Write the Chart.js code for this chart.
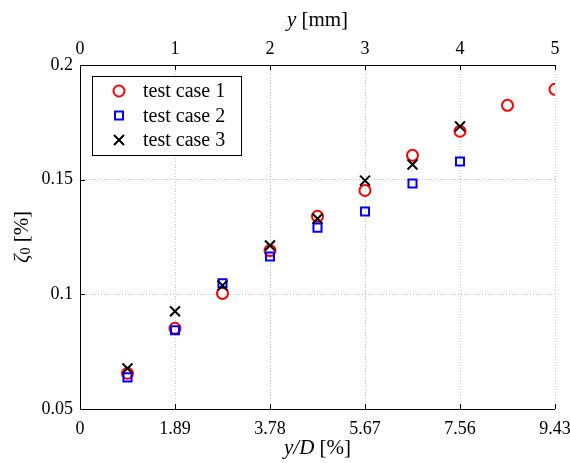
<!DOCTYPE html>
<html>
<head>
<meta charset="utf-8">
<script src="https://cdn.jsdelivr.net/npm/chart.js@4/dist/chart.umd.min.js"></script>
<style>
  html, body { margin: 0; padding: 0; background: #fff; }
  #wrap { width: 570px; height: 463px; }
</style>
</head>
<body>
<div id="wrap"><canvas id="myChart"></canvas></div>
<script>
// positions along the top axis, y [mm]
const posMm = [0.5, 1, 1.5, 2, 2.5, 3, 3.5, 4, 4.5, 5];
// zeta_0 [%]
const case1 = [0.0656, 0.0852, 0.1004, 0.1191, 0.1340, 0.1453, 0.1606, 0.1711, 0.1824, 0.1894];
const case2 = [0.0638, 0.0843, 0.1048, 0.1165, 0.1291, 0.1361, 0.1483, 0.1579];
const case3 = [0.0677, 0.0926, 0.1039, 0.1213, 0.1330, 0.1496, 0.1566, 0.1732];

const seriesNames = ['test case 1', 'test case 2', 'test case 3'];
const mmLabels = ['0', '1', '2', '3', '4', '5'];
const pctLabels = ['0', '1.89', '3.78', '5.67', '7.56', '9.43'];
const yLabels = ['0.05', '0.1', '0.15', '0.2'];

const SERIF = '"Liberation Serif", "Times New Roman", serif';

function pts(vals) {
  return vals.map((v, i) => ({ x: posMm[i], y: v }));
}

// legend entries, same look as the points
const markers = [
  { style: 'circle', color: '#ff0000' },
  { style: 'rect', color: '#0000ff' },
  { style: 'cross', color: '#000000' },
];

function drawMarker(ctx, style, color, x, y) {
  ctx.save();
  ctx.strokeStyle = color;
  ctx.lineWidth = 2;
  ctx.beginPath();
  if (style === 'circle') {
    ctx.arc(x, y, 5.5, 0, Math.PI * 2);
  } else if (style === 'rect') {
    ctx.rect(x - 4, y - 4, 8, 8);
  } else {
    ctx.moveTo(x - 5, y - 5); ctx.lineTo(x + 5, y + 5);
    ctx.moveTo(x + 5, y - 5); ctx.lineTo(x - 5, y + 5);
  }
  ctx.stroke();
  ctx.restore();
}

// box, inward ticks, axis titles and legend
const decor = {
  id: 'decor',
  afterDraw(chart) {
    const ctx = chart.ctx;
    const ca = chart.chartArea;
    const xs = chart.scales.x, ys = chart.scales.y;
    ctx.save();

    // box
    ctx.strokeStyle = '#000';
    ctx.lineWidth = 1;
    ctx.beginPath();
    ctx.moveTo(ca.left + 0.5, ca.top + 0.5);
    ctx.lineTo(ca.right, ca.top + 0.5);
    ctx.moveTo(ca.left + 0.5, ca.top);
    ctx.lineTo(ca.left + 0.5, ca.bottom + 0.5);
    ctx.lineTo(ca.right, ca.bottom + 0.5);
    // ticks pointing inward
    xs.ticks.forEach(t => {
      const px = Math.round(xs.getPixelForValue(t.value)) + 0.5;
      ctx.moveTo(px, ca.bottom); ctx.lineTo(px, ca.bottom - 5);
      ctx.moveTo(px, ca.top); ctx.lineTo(px, ca.top + 5);
    });
    ys.ticks.forEach(t => {
      const py = Math.round(ys.getPixelForValue(t.value)) + 0.5;
      ctx.moveTo(ca.left, py); ctx.lineTo(ca.left + 5, py);
    });
    ctx.stroke();

    // axis titles
    ctx.fillStyle = '#000';
    ctx.textBaseline = 'middle';
    const cx = (ca.left + ca.right) / 2;
    function mixed(parts, x, y) {
      let w = 0;
      parts.forEach(p => { ctx.font = p.font; w += ctx.measureText(p.text).width; });
      let cur = x - w / 2;
      ctx.textAlign = 'left';
      parts.forEach(p => {
        ctx.font = p.font;
        ctx.fillText(p.text, cur, y + (p.dy || 0));
        cur += ctx.measureText(p.text).width;
      });
    }
    mixed([
      { text: 'y', font: 'italic 21px ' + SERIF },
      { text: ' [mm]', font: '21px ' + SERIF },
    ], cx, 20);
    mixed([
      { text: 'y/D', font: 'italic 21px ' + SERIF },
      { text: ' [%]', font: '21px ' + SERIF },
    ], cx, 448);
    ctx.save();
    ctx.translate(22, (ca.top + ca.bottom) / 2);
    ctx.rotate(-Math.PI / 2);
    mixed([
      { text: 'ζ', font: 'italic 21px ' + SERIF },
      { text: '0', font: '14px ' + SERIF, dy: 4 },
      { text: ' [%]', font: '21px ' + SERIF },
    ], 0, 0);
    ctx.restore();

    // legend
    const lx = ca.left + 12, ly = ca.top + 11, lw = 149, lh = 79;
    ctx.fillStyle = '#fff';
    ctx.fillRect(lx, ly, lw, lh);
    ctx.strokeStyle = '#000';
    ctx.lineWidth = 1;
    ctx.strokeRect(lx + 0.5, ly + 0.5, lw, lh);
    ctx.font = '20px ' + SERIF;
    ctx.fillStyle = '#000';
    ctx.textAlign = 'left';
    ctx.textBaseline = 'middle';
    seriesNames.forEach((name, i) => {
      const ry = ly + 15 + i * 24.5;
      drawMarker(ctx, markers[i].style, markers[i].color, lx + 27, ry);
      ctx.fillText(name, lx + 51, ry + 1);
    });
    ctx.restore();
  }
};

const ctx = document.getElementById('myChart');

new Chart(ctx, {
  type: 'scatter',
  data: {
    datasets: [
      {
        label: seriesNames[0],
        data: pts(case1),
        pointStyle: 'circle',
        radius: 5.5,
        borderColor: '#ff0000',
        backgroundColor: 'rgba(0,0,0,0)',
        borderWidth: 2,
        order: 2,
      },
      {
        label: seriesNames[1],
        data: pts(case2),
        pointStyle: 'rect',
        radius: 5.7,
        borderColor: '#0000ff',
        backgroundColor: 'rgba(0,0,0,0)',
        borderWidth: 2,
        order: 1,
      },
      {
        label: seriesNames[2],
        data: pts(case3),
        pointStyle: 'crossRot',
        radius: 7,
        borderColor: '#000000',
        backgroundColor: 'rgba(0,0,0,0)',
        borderWidth: 2,
        order: 0,
      },
    ]
  },
  options: {
    responsive: true,
    maintainAspectRatio: false,
    animation: false,
    layout: { padding: 0 },
    scales: {
      x: {
        type: 'linear',
        position: 'bottom',
        min: 0,
        max: 5,
        grid: { color: '#c4c4c4', drawTicks: false },
        border: { display: false, dash: [1, 2] },
        ticks: {
          stepSize: 1,
          padding: 9,
          color: '#000',
          font: { family: SERIF, size: 18 },
          maxRotation: 0,
          callback: (v, i) => pctLabels[i],
        },
        afterFit: s => { s.height = 54; s.paddingRight = 15; s.paddingLeft = 0; },
      },
      x2: {
        type: 'linear',
        position: 'top',
        min: 0,
        max: 5,
        grid: { display: false, drawTicks: false },
        border: { display: false },
        ticks: {
          stepSize: 1,
          padding: 5,
          color: '#000',
          font: { family: SERIF, size: 18 },
          maxRotation: 0,
          callback: (v, i) => mmLabels[i],
        },
        afterFit: s => { s.height = 65; s.paddingRight = 15; s.paddingLeft = 0; },
      },
      y: {
        min: 0.05,
        max: 0.2,
        grid: { color: '#c4c4c4', drawTicks: false },
        border: { display: false, dash: [1, 2] },
        ticks: {
          stepSize: 0.05,
          padding: 7,
          color: '#000',
          font: { family: SERIF, size: 18 },
          callback: (v, i) => yLabels[i],
        },
        afterFit: s => { s.width = 80; s.paddingTop = 0; s.paddingBottom = 0; },
      },
    },
    plugins: {
      legend: { display: false },
      tooltip: { enabled: false },
    },
  },
  plugins: [decor]
});
</script>
</body>
</html>
